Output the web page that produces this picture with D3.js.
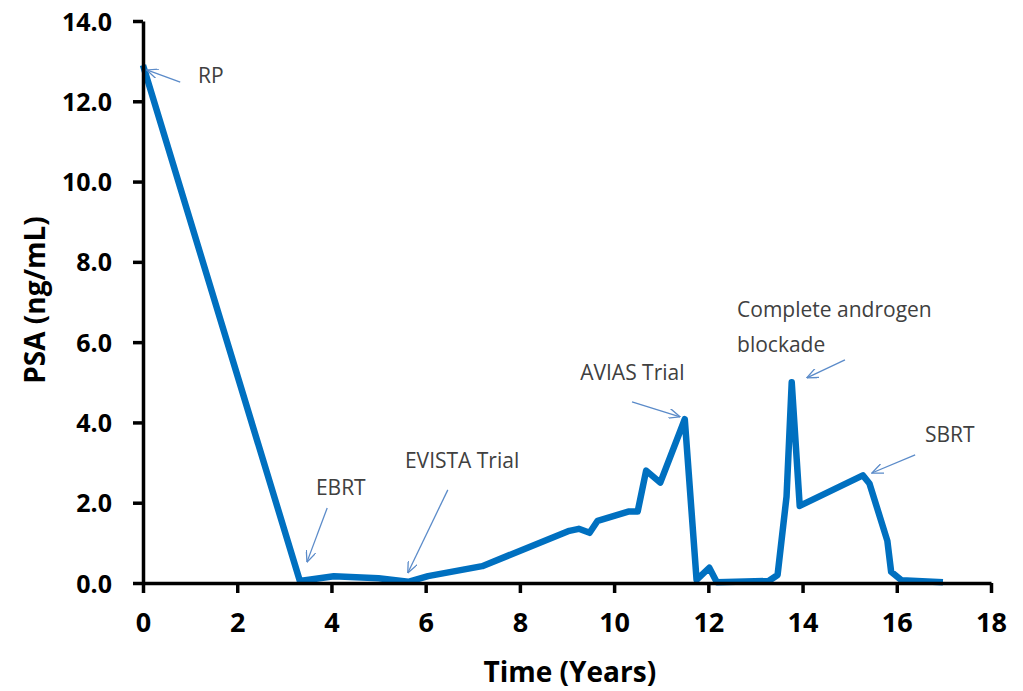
<!DOCTYPE html>
<html>
<head>
<meta charset="utf-8">
<script src="https://cdn.jsdelivr.net/npm/d3@7"></script>
<style>
  body { margin: 0; background: #fff; }
  text { font-family: "Open Sans", sans-serif; }
</style>
</head>
<body>
<svg id="chart"></svg>
<script>
const width = 1023, height = 691;
const margin = {top: 21, right: 32, bottom: 108, left: 143};

// PSA time series
const years = [0, 3.33, 4.05, 5.0, 5.63, 6.05, 7.2, 9.05, 9.25, 9.48, 9.65, 10.3, 10.5, 10.68, 10.98, 11.5, 11.75, 12.02, 12.18, 13.28, 13.47, 13.66, 13.77, 13.94, 15.28, 15.42, 15.8, 15.88, 16.1, 16.98];
const psa   = [12.9, 0.05, 0.17, 0.12, 0.03, 0.17, 0.42, 1.3, 1.35, 1.25, 1.55, 1.78, 1.78, 2.8, 2.5, 4.08, 0.08, 0.38, 0.02, 0.05, 0.2, 2.15, 5.0, 1.92, 2.68, 2.48, 1.05, 0.28, 0.07, 0.02];

const xTicks = [0, 2, 4, 6, 8, 10, 12, 14, 16, 18];
const yTicks = [0, 2, 4, 6, 8, 10, 12, 14];

// annotations: label lines, text anchor (left, middle) and arrow tail -> tip, in data units
const noteLabels = [["RP"], ["EBRT"], ["EVISTA Trial"], ["AVIAS Trial"], ["Complete androgen", "blockade"], ["SBRT"]];
const noteText   = [[1.17, 12.63], [3.67, 2.37], [5.56, 3.04], [9.28, 5.23], [12.61, 6.8], [16.6, 3.69]];
const noteTail   = [[0.79, 12.48], [3.91, 1.87], [6.47, 2.32], [10.38, 4.51], [14.9, 5.56], [16.39, 3.19]];
const noteTip    = [[0.08, 12.78], [3.48, 0.52], [5.62, 0.25], [11.4, 4.14], [14.09, 5.11], [15.47, 2.74]];

const svg = d3.select("#chart")
  .attr("width", width)
  .attr("height", height);

const g = svg.append("g")
  .attr("transform", `translate(${margin.left},${margin.top})`);

const iw = width - margin.left - margin.right;
const ih = height - margin.top - margin.bottom;

const x = d3.scaleLinear().domain([0, 18]).range([0, iw]);
const y = d3.scaleLinear().domain([0, 14]).range([ih, 0]);

// arrow marker (open V)
svg.append("defs").append("marker")
  .attr("id", "arrow")
  .attr("viewBox", "0 0 12 10")
  .attr("refX", 11.5).attr("refY", 5)
  .attr("markerWidth", 12).attr("markerHeight", 10)
  .attr("markerUnits", "userSpaceOnUse")
  .attr("orient", "auto")
  .append("path")
  .attr("d", "M0,0 L11.5,5 L0,10")
  .attr("fill", "none")
  .attr("stroke", "#5b8bc9")
  .attr("stroke-width", 1.3);

// the line
const line = d3.line()
  .x((d, i) => x(years[i]))
  .y(d => y(d));

g.append("path")
  .datum(psa)
  .attr("fill", "none")
  .attr("stroke", "#0070c0")
  .attr("stroke-width", 6.5)
  .attr("stroke-linejoin", "round")
  .attr("d", line);

// X axis
const xAxis = g.append("g")
  .attr("transform", `translate(0,${ih})`)
  .call(d3.axisBottom(x).tickValues(xTicks).tickSize(10).tickSizeOuter(0).tickPadding(20));

// Y axis
const yAxis = g.append("g")
  .call(d3.axisLeft(y).tickValues(yTicks).tickFormat(d3.format(".1f")).tickSize(10).tickSizeOuter(0).tickPadding(21));

[xAxis, yAxis].forEach(a => {
  a.select(".domain").attr("stroke", "#000").attr("stroke-width", 3.5);
  a.selectAll(".tick line").attr("stroke", "#000").attr("stroke-width", 3.5);
  a.selectAll(".tick text")
    .attr("fill", "#000")
    .style("font-family", "'Open Sans', sans-serif")
    .style("font-weight", "bold");
});
xAxis.selectAll(".tick text").style("font-size", "27px");
yAxis.selectAll(".tick text").style("font-size", "25px").attr("dy", "0.36em");

// axis titles
svg.append("text")
  .attr("x", margin.left + x(9.06))
  .attr("y", 682)
  .attr("text-anchor", "middle")
  .style("font-size", "28px")
  .style("font-weight", "bold")
  .text("Time (Years)");

svg.append("text")
  .attr("transform", `translate(45,${margin.top + y(7) - 2}) rotate(-90)`)
  .attr("text-anchor", "middle")
  .style("font-size", "28px")
  .style("font-weight", "bold")
  .text("PSA (ng/mL)");

// annotations
noteLabels.forEach((lines, i) => {
  g.append("line")
    .attr("x1", x(noteTail[i][0])).attr("y1", y(noteTail[i][1]))
    .attr("x2", x(noteTip[i][0])).attr("y2", y(noteTip[i][1]))
    .attr("stroke", "#5b8bc9")
    .attr("stroke-width", 1.3)
    .attr("marker-end", "url(#arrow)");

  const t = g.append("text")
    .attr("x", x(noteText[i][0]))
    .attr("y", y(noteText[i][1]))
    .attr("fill", "#404040")
    .style("font-size", "21px");
  lines.forEach((s, j) => {
    t.append("tspan")
      .attr("x", x(noteText[i][0]))
      .attr("dy", j === 0 ? "0.35em" : "1.65em")
      .text(s);
  });
});
</script>
</body>
</html>
